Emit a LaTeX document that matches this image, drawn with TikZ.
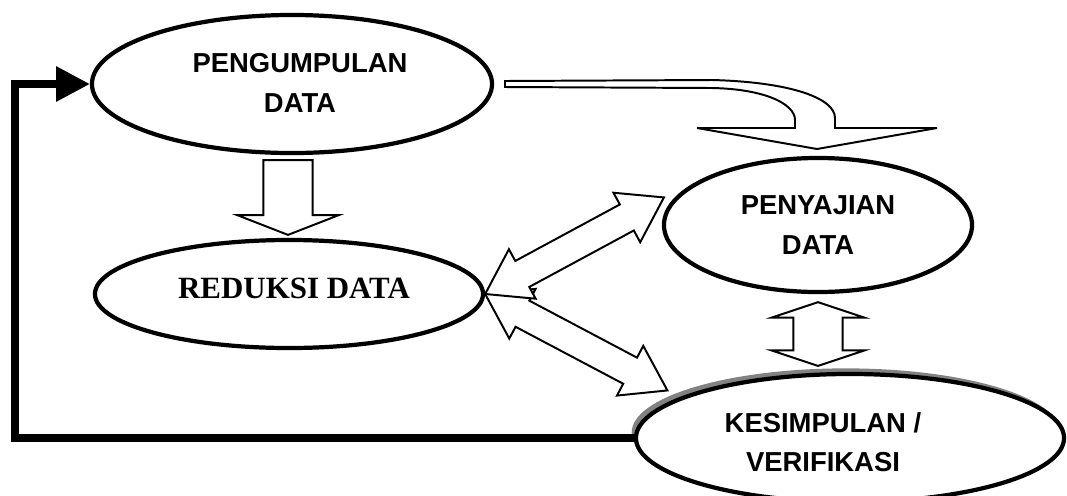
\documentclass[tikz,border=0pt]{standalone}
\usepackage{fontspec}
\setmainfont{Liberation Sans}
\newfontfamily\timesbf{Liberation Serif}
\usetikzlibrary{shapes.geometric,arrows.meta,calc,shadows}

\begin{document}
\begin{tikzpicture}[x=.025cm,y=-.025cm,
    bub/.style={draw,ellipse,line width=3pt,fill=white,inner sep=0pt},
    txt/.style={font=\fontsize{19.5}{28}\selectfont\bfseries,align=center},
    blk/.style={draw,line width=1.4pt,fill=white,line join=miter},
    sblock/.style n args={3}{blk,to path={
        -- ($(\tikztostart)!#3!90:(\tikztotarget)$)
        -- ($(\tikztotarget)!#1!(\tikztostart)!#3!90:(\tikztotarget)$)
        -- ($(\tikztotarget)!#1!(\tikztostart)!#2!90:(\tikztotarget)$)
        -- (\tikztotarget)
        -- ($(\tikztotarget)!#1!(\tikztostart)!#2!-90:(\tikztotarget)$)
        -- ($(\tikztotarget)!#1!(\tikztostart)!#3!-90:(\tikztotarget)$)
        -- ($(\tikztostart)!#3!-90:(\tikztotarget)$) -- cycle}},
    dblock/.style n args={3}{blk,to path={
        -- ($(\tikztostart)!#1!(\tikztotarget)!#2!90:(\tikztotarget)$)
        -- ($(\tikztostart)!#1!(\tikztotarget)!#3!90:(\tikztotarget)$)
        -- ($(\tikztotarget)!#1!(\tikztostart)!#3!90:(\tikztotarget)$)
        -- ($(\tikztotarget)!#1!(\tikztostart)!#2!90:(\tikztotarget)$)
        -- (\tikztotarget)
        -- ($(\tikztotarget)!#1!(\tikztostart)!#2!-90:(\tikztotarget)$)
        -- ($(\tikztotarget)!#1!(\tikztostart)!#3!-90:(\tikztotarget)$)
        -- ($(\tikztostart)!#1!(\tikztotarget)!#3!-90:(\tikztotarget)$)
        -- ($(\tikztostart)!#1!(\tikztotarget)!#2!-90:(\tikztotarget)$)
        -- cycle}},
    fb/.style={line width=5pt,-{Triangle[length=24pt,width=24pt]}}]
  \fill[white] (0,0) rectangle (1067,495);
  \useasboundingbox (0,0) rectangle (1067,495);
  % the four stages
  \node[bub,minimum width=10cm,minimum height=3.45cm] (pen) at (292,84) {};
  \node[txt] (pentxt) at (300,83) {PENGUMPULAN\\DATA};
  \node[bub,minimum width=9.7cm,minimum height=2.7cm] (red) at (289,294) {};
  \node[font=\fontsize{22}{26}\timesbf\bfseries] (redtxt) at (294,288) {REDUKSI DATA};
  \node[bub,txt,minimum width=7.7cm,minimum height=3.35cm] (pys) at (818,225)
    {PENYAJIAN\\DATA};
  \node[bub,minimum width=10.7cm,minimum height=3.2cm,
    drop shadow={shadow xshift=-3pt,shadow yshift=4pt,fill=black!65,opacity=.75}]
    (kes) at (850,438) {};
  \node[txt] (kestxt) at (823,442) {KESIMPULAN /\\VERIFIKASI};
  \coordinate (lft) at (15,0);
  \coordinate (kt) at ($(kes.165)+(-20,-4)$);
  % arrows
  \draw[fb] (kes.west) -| (lft |- pen.west) -- (pen.west);
  \draw[sblock={14pt}{36pt}{17.5pt}] ($(pen.south)+(-4,5)$) to ($(red.north)+(-1,-3)$);
  \draw[blk] (505,81) -- (712,80) .. controls (790,82) and (835,98) .. (835,118)
    -- (835,128) -- (937,128) -- (817,149) -- (697,128) -- (795,128) -- (795,120)
    .. controls (795,104) and (765,89) .. (712,88) -- (505,87) -- cycle;
  \draw[dblock={30pt}{20pt}{10.5pt}] (red.east) to (kt);
  \draw[dblock={30pt}{20pt}{10.5pt}] (red.east) to ($(pys.170)+(-9,-2)$);
  \draw[dblock={11pt}{33pt}{17.5pt}] ($(pys.south)+(0,8)$)
    to ($(pys.south |- kes.north)+(0,-6)$);
\end{tikzpicture}
\end{document}
